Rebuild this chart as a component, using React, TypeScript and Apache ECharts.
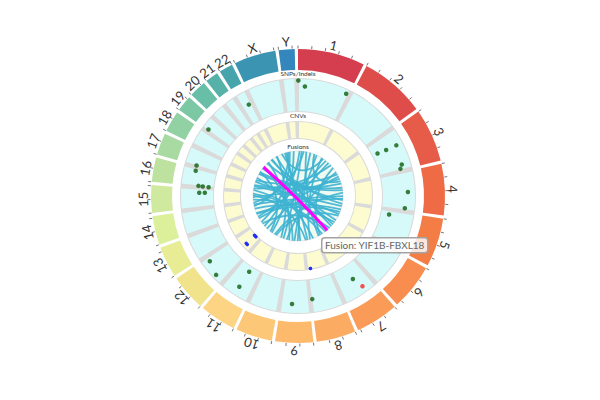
import React, { useEffect, useRef } from "react";
import * as echarts from "echarts";

// ---------- data ----------
const CHROMS = ["1","2","3","4","5","6","7","8","9","10","11","12","13","14","15","16","17","18","19","20","21","22","X","Y"];
const CHROM_LENGTHS_MB = [249.25,243.2,198.02,191.15,180.92,171.12,159.14,146.36,141.21,135.53,135.01,133.85,115.17,107.35,102.53,90.35,81.2,78.08,59.13,63.03,48.13,51.3,155.27,59.37];
const CHROM_COLORS = ["#d53e4f","#df4d4b","#e65c48","#ee6b45","#f47d45","#f88d4f","#fa9c58","#fcab62","#fdba6c","#fdc778","#fdd484","#f0e38c","#e7ec95","#dcef9b","#cfe99e","#bde29f","#a8daa2","#91d1a4","#7cc8a5","#68bea6","#56b2a9","#48a4ac","#3b94b2","#3387bc"];
const GAP_MB = 12;
const TICK_STEP_MB = 50;

// [chromosome, position (Mb), track value 0..1]
const SNP_POINTS: [string, number, number][] = [
  ["1", 1.4, 0.97], ["1", 34, 0.78], ["1", 237, 0.89], ["22", 36, 0.59], ["19", 6.2, 0.84],
  ["17", 3.0, 0.66], ["16", 78, 0.64], ["16", 2.5, 0.47], ["16", 1.5, 0.33], ["16", 0.5, 0.14],
  ["15", 80.4, 0.43], ["15", 81.3, 0.25], ["3", 65.4, 0.15], ["3", 70.1, 0.45], ["3", 73.2, 0.81],
  ["3", 170.6, 0.74], ["3", 190, 0.66], ["4", 100, 0.79], ["4", 180.8, 0.71], ["5", 24, 0.24],
  ["12", 111.9, 0.78], ["12", 41.9, 0.91], ["11", 64.1, 0.15], ["11", 64.9, 0.73], ["9", 86.4, 0.73],
  ["8", 141, 0.6], ["7", 71.4, 0.45],
];
const INDEL_POINTS: [string, number, number][] = [["7", 52.1, 0.82]];
// [chromosome, start (Mb), end (Mb), track value 0..1]
const CNV_SEGMENTS: [string, number, number, number][] = [
  ["12", 40, 58, 0.04], ["12", 44, 56, 0.76], ["8", 122.5, 124.5, 0.97],
];
// [chrA, posA (Mb), chrB, posB (Mb)]
const FUSIONS: [string, number, string, number][] = [
  ["1", 20, "12", 60], ["1", 45, "10", 80], ["1", 150, "9", 60], ["1", 200, "3", 150],
  ["X", 80, "8", 100], ["X", 120, "14", 60], ["X", 40, "2", 60], ["22", 30, "6", 120],
  ["Y", 20, "11", 90], ["2", 100, "13", 50], ["2", 180, "16", 40], ["2", 220, "7", 110],
  ["3", 60, "17", 40], ["3", 120, "15", 50], ["4", 50, "18", 30], ["4", 120, "14", 80],
  ["4", 170, "20", 30], ["5", 40, "16", 70], ["5", 110, "13", 90], ["5", 160, "11", 30],
  ["6", 30, "19", 20], ["6", 90, "21", 30], ["6", 150, "12", 100], ["7", 30, "15", 90],
  ["7", 130, "1", 100], ["8", 30, "17", 70], ["8", 70, "2", 40], ["9", 30, "X", 100],
  ["9", 100, "1", 230], ["10", 40, "3", 30], ["10", 110, "22", 40], ["11", 50, "4", 80],
  ["11", 110, "18", 60], ["12", 20, "2", 140], ["12", 120, "X", 140], ["13", 30, "3", 90],
  ["13", 100, "4", 150], ["14", 30, "5", 80], ["14", 100, "1", 70], ["15", 20, "6", 60],
  ["15", 70, "8", 120], ["16", 20, "7", 80], ["16", 80, "3", 180], ["17", 20, "5", 140],
  ["18", 50, "4", 20], ["19", 50, "9", 120], ["20", 50, "10", 10], ["21", 20, "5", 10],
];
const HIGHLIGHT_FUSION: [string, number, string, number] = ["19", 38.8, "7", 5.5];
const HIGHLIGHT_NAME = "YIF1B-FBXL18";
const TRACK_LABELS = ["SNPs/Indels", "CNVs", "Fusions"];

// ---------- layout ----------
const RAD = {
  max: 170, chrOuter: 147, chrInner: 126, tickIn: 147.5, tickOut: 150.5, label: 155,
  snpOuter: 118, snpInner: 84, cnvOuter: 75, cnvInner: 57, fusion: 45,
  snpLabel: 123, cnvLabel: 80.5, fusionLabel: 49.5,
};
const CHORD_BEND = 0.3; // control point position between centre (0) and chord midpoint (1)

const OFFSETS: number[] = [];
let acc = 0;
CHROM_LENGTHS_MB.forEach((len) => { OFFSETS.push(acc); acc += len + GAP_MB; });
const TOTAL = acc;
const gpos = (chr: string, pos: number) => OFFSETS[CHROMS.indexOf(chr)] + pos;

function geom(api: any) {
  const c = api.coord([0, 0]);
  const pt = (r: number, g: number) => api.coord([r, g]);
  const ang = (g: number) => { const p = api.coord([100, g]); return Math.atan2(p[1] - c[1], p[0] - c[0]); };
  const rad = (r: number) => { const p = api.coord([r, 0]); return Math.hypot(p[0] - c[0], p[1] - c[1]); };
  return { c, pt, ang, rad };
}
const after = (a1: number, a2: number) => { let b = a2; while (b <= a1) b += Math.PI * 2; return b; };

export default function App() {
  const ref = useRef<HTMLDivElement>(null);
  useEffect(() => {
    if (!ref.current) return;
    const chart = echarts.init(ref.current, null, { renderer: "svg" });

    const backgroundSeries = {
      type: "custom", coordinateSystem: "polar", silent: true, z: 1,
      data: [[0, 0]],
      renderItem: (_p: any, api: any) => {
        const g = geom(api);
        const [cx, cy] = g.c;
        const labels = [RAD.snpLabel, RAD.cnvLabel, RAD.fusionLabel].map((r, k) => {
          const p = g.pt(r, 0);
          return { type: "text", x: p[0], y: p[1], style: { text: TRACK_LABELS[k], fill: "#333", fontSize: 6.5, fontFamily: "Lato", align: "center", verticalAlign: "middle", textAlign: "center", textVerticalAlign: "middle" } };
        });
        return {
          type: "group",
          children: [
            { type: "ring", shape: { cx, cy, r0: g.rad(RAD.snpInner), r: g.rad(RAD.snpOuter) }, style: { fill: "#dadada" } },
            { type: "ring", shape: { cx, cy, r0: g.rad(RAD.cnvInner), r: g.rad(RAD.cnvOuter) }, style: { fill: "#dadada" } },
            { type: "circle", shape: { cx, cy, r: g.rad(RAD.fusion) }, style: { fill: "#eefaf2", stroke: "#e4e4e4", lineWidth: 1 } },
            ...labels,
          ],
        };
      },
    };

    const chromSeries = {
      type: "custom", coordinateSystem: "polar", silent: true, z: 2,
      data: CHROMS.map((_c, i) => [i, 0]),
      renderItem: (_p: any, api: any) => {
        const i = api.value(0);
        const g = geom(api);
        const [cx, cy] = g.c;
        const s = OFFSETS[i];
        const e = s + CHROM_LENGTHS_MB[i];
        const a1 = g.ang(s);
        const a2 = after(a1, g.ang(e));
        const band = (r0: number, r1: number, fill: string, padPx: number, inset: number) => {
          const ri = g.rad(r0) + inset, ro = g.rad(r1) - inset;
          const pa = padPx / ((ri + ro) / 2);
          return { type: "sector", shape: { cx, cy, r0: ri, r: ro, startAngle: a1 + pa, endAngle: a2 - pa, clockwise: true }, style: { fill } };
        };
        const children: any[] = [
          band(RAD.chrInner, RAD.chrOuter, CHROM_COLORS[i], 0, 0),
          band(RAD.snpInner, RAD.snpOuter, "#d6fafa", 1.0, 1),
          band(RAD.cnvInner, RAD.cnvOuter, "#fdfbd0", 1.0, 1),
        ];
        for (let t = 0; t <= CHROM_LENGTHS_MB[i]; t += TICK_STEP_MB) {
          const p1 = g.pt(RAD.tickIn, s + t), p2 = g.pt(RAD.tickOut, s + t);
          children.push({ type: "line", shape: { x1: p1[0], y1: p1[1], x2: p2[0], y2: p2[1] }, style: { stroke: "#777", lineWidth: 1 } });
        }
        const mid = (s + e) / 2;
        const lp = g.pt(RAD.label, mid);
        const am = g.ang(mid);
        children.push({
          type: "text", x: lp[0], y: lp[1], rotation: -(am + Math.PI / 2),
          style: { text: CHROMS[i], fill: "#333", fontSize: 13, fontFamily: "Lato", align: "center", verticalAlign: "middle", textAlign: "center", textVerticalAlign: "middle" },
        });
        return { type: "group", children };
      },
    };

    const chordShape = (g: any, f: [string, number, string, number]) => {
      const p1 = g.pt(RAD.fusion, gpos(f[0], f[1]));
      const p2 = g.pt(RAD.fusion, gpos(f[2], f[3]));
      const mx = (p1[0] + p2[0]) / 2, my = (p1[1] + p2[1]) / 2;
      return {
        x1: p1[0], y1: p1[1], x2: p2[0], y2: p2[1],
        cpx1: g.c[0] + (mx - g.c[0]) * CHORD_BEND, cpy1: g.c[1] + (my - g.c[1]) * CHORD_BEND,
      };
    };

    const fusionSeries = {
      type: "custom", coordinateSystem: "polar", silent: true, z: 3,
      data: FUSIONS.map((_f, k) => [k, 0]),
      renderItem: (_p: any, api: any) => {
        const g = geom(api);
        return { type: "bezierCurve", shape: chordShape(g, FUSIONS[api.value(0)]), style: { stroke: "#3eb3d1", lineWidth: 1.8, fill: "none", opacity: 0.9 } };
      },
    };

    const highlightSeries = {
      type: "custom", coordinateSystem: "polar", silent: true, z: 4,
      data: [[0, 0]],
      renderItem: (_p: any, api: any) => {
        const g = geom(api);
        return { type: "bezierCurve", shape: chordShape(g, HIGHLIGHT_FUSION), style: { stroke: "#ff00ff", lineWidth: 3, fill: "none" } };
      },
    };

    const snpRadius = (v: number) => RAD.snpInner + 1.5 + v * (RAD.snpOuter - RAD.snpInner - 3);
    const snpSeries = {
      type: "scatter", coordinateSystem: "polar", silent: true, z: 5,
      symbolSize: 4.5, itemStyle: { color: "#0b5e0b" },
      data: SNP_POINTS.map(([c, p, v]) => [snpRadius(v), gpos(c, p)]),
    };
    const indelSeries = {
      type: "scatter", coordinateSystem: "polar", silent: true, z: 5,
      symbolSize: 4.5, itemStyle: { color: "#ff2222" },
      data: INDEL_POINTS.map(([c, p, v]) => [snpRadius(v), gpos(c, p)]),
    };

    const cnvSeries = {
      type: "custom", coordinateSystem: "polar", silent: true, z: 5,
      data: CNV_SEGMENTS.map((_s, k) => [k, 0]),
      renderItem: (_p: any, api: any) => {
        const g = geom(api);
        const [c, st, en, v] = CNV_SEGMENTS[api.value(0)];
        const r = g.rad(RAD.cnvInner + 1 + v * (RAD.cnvOuter - RAD.cnvInner - 2));
        const a1 = g.ang(gpos(c, st));
        const a2 = after(a1, g.ang(gpos(c, en)));
        return { type: "arc", shape: { cx: g.c[0], cy: g.c[1], r, startAngle: a1, endAngle: a2, clockwise: true }, style: { stroke: "#1f2ff5", lineWidth: 3.5, lineCap: "round", fill: "none" } };
      },
    };

    chart.setOption({
      animation: false,
      backgroundColor: "#ffffff",
      polar: { center: [298, 196], radius: RAD.max },
      angleAxis: { type: "value", min: 0, max: TOTAL, startAngle: 90, clockwise: true, show: false },
      radiusAxis: { type: "value", min: 0, max: RAD.max, show: false },
      series: [backgroundSeries, chromSeries, fusionSeries, highlightSeries, snpSeries, indelSeries, cnvSeries],
      graphic: [
        {
          type: "rect", left: 321, top: 237, z: 100,
          shape: { width: 106, height: 15, r: 3 },
          style: { fill: "rgba(255,255,255,0.82)", stroke: "#a3a3a3", lineWidth: 1.5 },
        },
        {
          type: "text", left: 325, top: 239.5, z: 101,
          style: { text: "Fusion: " + HIGHLIGHT_NAME, fill: "#666", fontSize: 10, fontFamily: "Lato" },
        },
      ],
    });
    return () => chart.dispose();
  }, []);
  return <div ref={ref} style={{ position: "fixed", left: 0, top: 0, width: 600, height: 400 }} />;
}
